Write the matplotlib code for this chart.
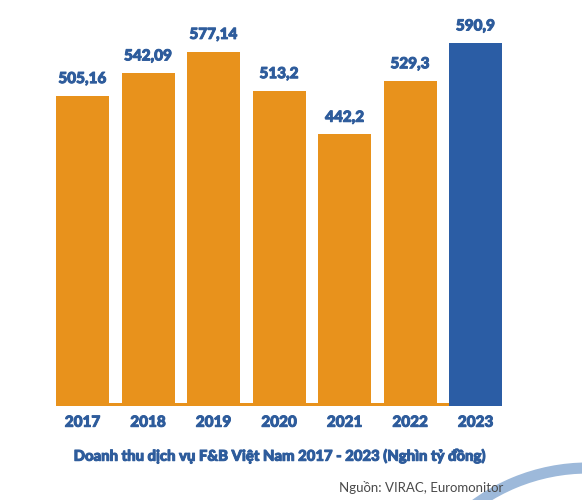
import matplotlib
matplotlib.use("Agg")
import matplotlib.pyplot as plt
from matplotlib.patches import Arc
import matplotlib.patheffects as pe

years = ["2017", "2018", "2019", "2020", "2021", "2022", "2023"]
values = [505.16, 542.09, 577.14, 513.2, 442.2, 529.3, 590.9]
value_labels = ["505,16", "542,09", "577,14", "513,2", "442,2", "529,3", "590,9"]
title = "Doanh thu dịch vụ F&B Việt Nam 2017 - 2023 (Nghìn tỷ đồng)"
source = "Nguồn: VIRAC, Euromonitor"

ORANGE = "#E8921C"
BLUE = "#2B5DA5"
TEXT_BLUE = "#2E5C9C"

W, H = 582, 500
fig = plt.figure(figsize=(W / 100, H / 100), dpi=100)
fig.patch.set_facecolor("white")

base_px = 406  # from top
ax = fig.add_axes([0, (H - base_px) / H, 1, base_px / H])
x = list(range(len(years)))
px_per_unit = 0.614
bar_w = 53 / 65.5
ax.set_xlim((0 - 82.5) / 65.5, (W - 82.5) / 65.5)
ax.set_ylim(0, base_px / px_per_unit)

colors = [ORANGE] * (len(years) - 1) + [BLUE]
ax.bar(x, values, width=bar_w, color=colors, zorder=2)
# orange baseline strip
ax.fill_between([x[0] - bar_w / 2, x[-1] - bar_w / 2], 0, 3 / px_per_unit,
                color=ORANGE, lw=0, zorder=1)

heavy = [pe.withStroke(linewidth=0.7, foreground=TEXT_BLUE)]
font = dict(family=["Lato", "DejaVu Sans"], fontweight="black")
for xi, v, lab in zip(x, values, value_labels):
    ax.annotate(lab, (xi, v), xytext=(0, 7), textcoords="offset points",
                ha="center", va="bottom", color=TEXT_BLUE, fontsize=11,
                path_effects=heavy, **font)

ax.set_xticks(x)
ax.set_xticklabels(years, color=TEXT_BLUE, fontsize=11, **font)
for t in ax.get_xticklabels():
    t.set_path_effects(heavy)
ax.tick_params(axis="x", length=0, pad=7)
ax.set_yticks([])
for s in ax.spines.values():
    s.set_visible(False)
ax.patch.set_alpha(0)

fig.text(280 / W, 1 - 456 / H, title, ha="center", va="center",
         color=TEXT_BLUE, fontsize=10.7, path_effects=heavy, **font)
fig.text(503 / W, 1 - 487 / H, source, ha="right", va="center",
         color="#4A4A4A", fontsize=9.5, family=["Lato", "DejaVu Sans"])

# decorative arc (bottom right)
arc_ax = fig.add_axes([0, 0, 1, 1], zorder=-1)
arc_ax.set_xlim(0, W)
arc_ax.set_ylim(H, 0)
arc_ax.axis("off")
arc_ax.add_patch(Arc((588, 660), 2 * 192, 2 * 192, color="#9DB9DA", lw=8))

fig.savefig("out.png", dpi=100, facecolor="white")
